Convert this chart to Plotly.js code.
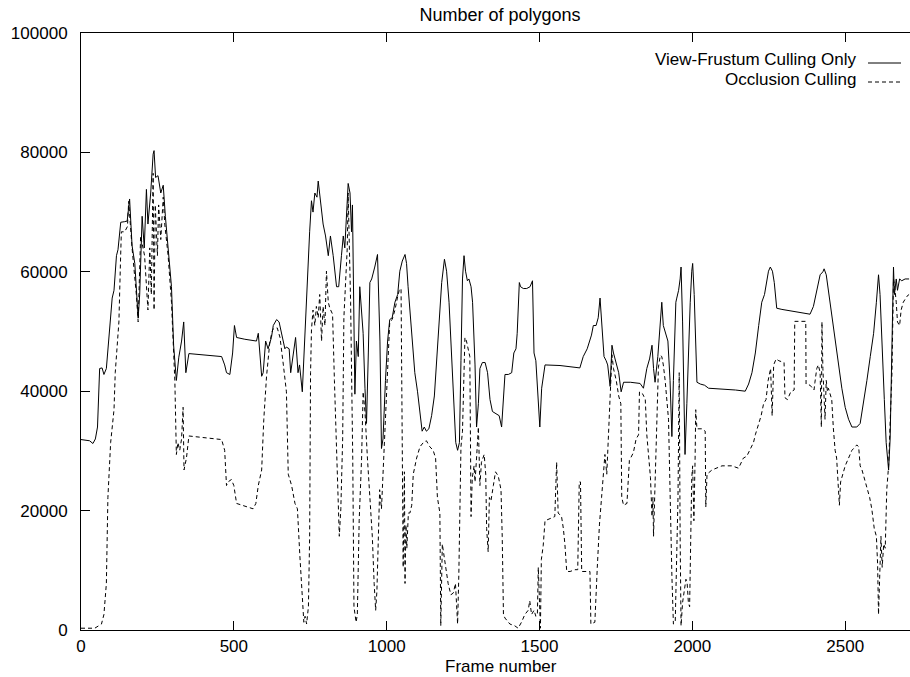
<!DOCTYPE html>
<html>
<head>
<meta charset="utf-8">
<script src="https://cdn.plot.ly/plotly-3.0.1.min.js"></script>
<style>
  html, body { margin: 0; padding: 0; background: #fff; }
  #chart { width: 910px; height: 677px; }
</style>
</head>
<body>
<div id="chart"></div>
<script>
// ---- Data ----
const chartTitle = "Number of polygons";
const xAxisLabel = "Frame number";
const seriesNames = ["View-Frustum Culling Only", "Occlusion Culling"];

const vfcFrames = [0,28,39,47,54,61,69,75,83,92,102,108,116,121,130,143,151,159,167,176,187,192,200,207,214,219,228,236,239,244,252,261,269,276,285,296,303,312,320,329,336,343,353,460,470,476,487,496,502,509,536,563,574,580,585,591,596,604,612,623,629,640,648,656,667,672,681,686,694,702,710,715,724,732,739,748,754,759,765,772,776,783,792,800,809,816,825,836,843,852,858,863,869,874,880,885,888,893,896,901,907,912,918,923,929,934,940,945,951,956,961,970,978,983,988,996,1003,1010,1018,1027,1036,1043,1051,1060,1065,1070,1081,1092,1101,1109,1116,1123,1130,1138,1147,1156,1163,1171,1180,1189,1196,1204,1212,1221,1226,1232,1238,1243,1248,1253,1258,1264,1269,1276,1281,1289,1294,1300,1305,1313,1322,1330,1338,1346,1355,1368,1376,1382,1387,1398,1409,1416,1423,1427,1434,1438,1447,1458,1469,1477,1482,1488,1496,1501,1507,1518,1567,1632,1643,1656,1670,1676,1685,1692,1698,1703,1711,1718,1723,1731,1737,1742,1751,1759,1767,1775,1797,1829,1840,1851,1860,1868,1873,1878,1887,1895,1900,1905,1913,1920,1927,1933,1938,1946,1949,1955,1960,1963,1968,1973,1976,1982,1987,1993,1998,2001,2006,2011,2015,2026,2040,2053,2097,2141,2173,2184,2195,2206,2217,2227,2236,2244,2249,2255,2262,2268,2276,2293,2336,2385,2396,2407,2418,2427,2431,2438,2445,2456,2467,2478,2489,2500,2511,2522,2538,2549,2560,2571,2582,2593,2602,2609,2614,2620,2628,2634,2642,2647,2653,2658,2661,2667,2671,2678,2685,2696,2709];
const vfcPolygons = [31900,31700,31240,32000,34000,43800,43900,42800,43800,49700,55600,56900,62700,63700,68300,68400,68500,72200,64400,61400,52300,56200,69300,64000,73800,68000,73200,79700,80300,75800,76100,73200,74500,69300,64000,57500,47700,41800,45700,48400,51600,43100,46300,45800,44400,43100,42800,46400,51000,49000,48700,48400,48400,49700,45800,42500,43100,48400,47100,49000,51000,52000,51600,49700,47100,47400,47100,43100,45800,49000,43100,44400,39900,49700,58200,66700,71900,70000,73200,72500,75200,71900,68000,66000,62700,66000,62700,57500,57500,62700,66000,64000,69300,74800,73200,66700,71200,52300,39500,48400,45800,57500,52300,49700,40500,34600,46400,58200,58800,60100,60800,62900,48400,30400,32000,41800,48400,52000,52300,54900,56200,60100,61800,62900,61400,57500,49700,43100,39900,35900,33300,34000,33300,33700,35900,39200,44400,51000,58200,62100,60100,54900,47100,37900,31400,30100,31400,45100,58800,62700,60100,58500,58800,57500,54900,44400,34000,37900,43800,44800,44800,43100,38600,36600,36300,35900,34000,39900,42800,42800,43100,46400,47100,49700,58200,57500,57200,57200,57500,58500,46400,45100,38600,34000,40500,44400,44300,43900,45800,47100,49400,51000,51000,52300,55600,52300,45800,45100,44400,40800,47700,46400,44400,43100,39900,41500,41500,41300,40500,43800,45400,47700,43800,41500,45800,51000,54900,51000,49700,48400,41800,32400,41800,54900,55600,56900,58800,60800,51600,38600,29400,37900,46400,54900,60100,61400,56200,48400,41500,41200,41000,40500,40400,40200,40000,41200,43100,46400,51000,54900,56200,58800,60100,60800,60100,58200,53900,53700,53300,52900,54200,56900,59500,60000,60500,59500,56900,52900,48400,44400,40500,37300,35300,34000,34000,34600,37900,41800,45800,49700,54900,59500,56200,47100,38600,31400,26800,32000,45100,60800,56200,58800,56900,58800,58500,58800,58800];

const occFrames = [0,45,67,75,83,88,97,105,108,112,118,124,129,132,143,152,156,167,181,187,195,208,219,225,230,236,239,243,250,254,261,269,274,285,296,307,312,317,323,329,334,337,345,353,460,470,476,481,492,500,509,525,541,563,572,580,591,598,607,618,627,634,642,651,662,672,678,689,700,708,716,725,729,733,738,744,748,751,754,759,765,770,776,781,787,792,798,803,809,814,823,829,836,842,845,850,856,860,867,871,874,878,882,889,893,900,904,910,918,923,929,937,945,953,959,964,968,973,977,983,989,996,1005,1010,1018,1027,1035,1041,1047,1049,1052,1054,1058,1060,1063,1066,1071,1076,1082,1087,1098,1109,1120,1130,1141,1152,1160,1166,1174,1177,1182,1190,1201,1210,1218,1225,1232,1236,1243,1248,1256,1261,1267,1272,1276,1280,1286,1289,1294,1300,1305,1310,1319,1324,1327,1332,1336,1341,1349,1356,1365,1374,1378,1382,1387,1403,1419,1430,1441,1452,1463,1468,1474,1482,1488,1493,1496,1499,1503,1506,1512,1518,1534,1550,1556,1561,1572,1578,1583,1589,1600,1616,1625,1630,1634,1638,1654,1665,1668,1681,1689,1696,1703,1709,1714,1720,1725,1731,1737,1742,1751,1759,1766,1769,1775,1786,1794,1807,1816,1824,1827,1838,1846,1851,1863,1868,1871,1873,1878,1884,1889,1895,1900,1905,1911,1922,1927,1933,1938,1944,1953,1957,1960,1963,1968,1974,1979,1983,1987,1991,1995,1998,2001,2005,2009,2011,2015,2031,2042,2044,2048,2064,2097,2129,2151,2167,2178,2189,2200,2206,2217,2225,2233,2241,2248,2252,2256,2261,2266,2274,2283,2300,2303,2311,2322,2333,2335,2371,2372,2385,2398,2401,2407,2412,2418,2422,2424,2427,2431,2434,2438,2442,2445,2451,2456,2461,2467,2472,2478,2481,2485,2492,2500,2511,2522,2533,2538,2544,2549,2555,2562,2571,2580,2587,2595,2602,2606,2609,2613,2617,2621,2626,2631,2636,2642,2647,2653,2658,2662,2667,2671,2678,2683,2690,2702,2709];
const occPolygons = [300,300,1000,2600,7800,22200,31400,36300,36900,43100,47100,51600,61400,66700,66700,67600,71800,64000,56200,51600,66000,62700,53600,64000,56200,76500,53600,71200,62700,71200,65400,72500,68000,62700,54900,41800,29400,31400,30100,32000,37300,26800,28800,32500,31900,30100,24200,24800,25200,24200,21200,20900,20600,20300,21200,24200,26800,35300,42500,48400,50300,50600,50600,49000,44400,39900,26100,24200,21200,20300,12400,3900,1300,2300,1000,3900,15700,43100,50300,53600,51000,54200,52300,56200,48400,54200,51000,60100,54900,53900,52900,41800,28800,19600,15700,20300,32000,52300,60100,64000,73200,63400,54900,28800,3900,1300,2600,18300,28800,39900,36500,28800,22200,15700,7800,3300,6500,17000,23500,20300,26800,36600,46400,51600,52000,53600,55600,56900,57200,41800,22200,10500,26500,7800,17600,13700,19600,19600,20900,26100,28800,30700,31400,31700,30700,30100,28800,22200,19600,700,14400,11800,7800,5900,6200,7800,1000,9200,30700,33300,49000,48400,47100,45800,19000,25500,27500,24800,28800,34000,24200,28100,29400,26100,17000,13100,22200,21600,24200,26500,25800,23500,15700,2600,2000,1000,700,300,1300,2600,3300,4900,2600,3300,2300,2600,10500,5900,300,11800,14100,18300,18600,19000,28100,19600,19000,17000,14400,9800,9800,10100,10100,24800,24800,9800,9800,9800,1000,1300,10500,17600,22200,26800,29400,26100,32700,37900,46100,43800,41800,39200,37900,22200,20900,21200,28400,29700,32000,32700,39900,39500,38600,32700,25500,19000,22200,15700,24200,38000,44000,46000,45800,44400,41800,35300,22200,9200,1000,1300,22200,43100,15700,700,4600,6500,8500,7800,4600,3900,17000,25500,27500,18300,28800,36900,33700,33700,33300,20600,26100,26800,27500,27500,27100,28800,29100,30400,31400,32700,34600,35900,37900,38600,41800,43100,43800,35900,44400,45400,45100,44800,38900,38600,39900,40200,51700,51700,41200,41000,40200,41500,43800,44400,43100,34000,51600,43800,37900,35300,41800,39900,40500,39200,38600,34000,30100,28800,23500,20900,24800,26100,27500,28800,30100,30700,31000,30700,27500,26800,25500,24200,22200,20300,17000,15700,11100,2600,11800,15700,10500,14400,13700,23500,27500,34000,43100,58800,57500,54900,51600,51000,53600,54900,55900,56200];

const xTickValues = [0, 500, 1000, 1500, 2000, 2500];
const yTickValues = [0, 20000, 40000, 60000, 80000, 100000];

// ---- Layout geometry (pixels) ----
const W = 910, H = 677;
const M = { l: 81, r: 0, t: 33, b: 47 };
const plotW = W - M.l - M.r, plotH = H - M.t - M.b;
const px2paperX = px => (px - M.l) / plotW;
const px2paperY = py => 1 - (py - M.t) / plotH;

const FONT = "Liberation Sans, Arial, Helvetica, sans-serif";
const FS = 18;
const TICKFS = 17;
const LEGFS = 17;

const traces = [
  { x: vfcFrames, y: vfcPolygons, type: "scatter", mode: "lines", name: seriesNames[0],
    line: { color: "#000", width: 1 }, showlegend: false },
  { x: occFrames, y: occPolygons, type: "scatter", mode: "lines", name: seriesNames[1],
    line: { color: "#000", width: 1, dash: "4px,3px" }, showlegend: false }
];

const layout = {
  width: W, height: H,
  margin: M,
  paper_bgcolor: "#fff", plot_bgcolor: "#fff",
  font: { family: FONT, size: FS, color: "#000" },
  title: { text: chartTitle, font: { family: FONT, size: FS, color: "#000" },
           xref: "container", x: 500 / W, xanchor: "center",
           yref: "container", y: 1 - 15 / H, yanchor: "middle" },
  xaxis: {
    range: [0, 2712], tickvals: xTickValues, tickformat: "d",
    ticks: "inside", ticklen: 9, tickcolor: "#000", tickwidth: 1,
    showline: true, linecolor: "#000", linewidth: 1, mirror: "allticks",
    showgrid: false, zeroline: false, ticklabelstandoff: 1,
    tickfont: { family: FONT, size: TICKFS, color: "#000" }, fixedrange: true
  },
  yaxis: {
    range: [0, 100000], tickvals: yTickValues, tickformat: "d",
    ticks: "inside", ticklen: 9, tickcolor: "#000", tickwidth: 1,
    showline: true, linecolor: "#000", linewidth: 1, mirror: false,
    showgrid: false, zeroline: false, ticklabelstandoff: 9,
    tickfont: { family: FONT, size: TICKFS, color: "#000" }, fixedrange: true
  },
  annotations: [
    { text: xAxisLabel, xref: "paper", yref: "paper", x: px2paperX(501), y: px2paperY(666),
      xanchor: "center", yanchor: "middle", showarrow: false, borderpad: 0,
      font: { family: FONT, size: 17, color: "#000" } },
    { text: seriesNames[0], xref: "paper", yref: "paper", x: px2paperX(857), y: px2paperY(60),
      xanchor: "right", yanchor: "middle", showarrow: false, borderpad: 0,
      font: { family: FONT, size: LEGFS, color: "#000" } },
    { text: seriesNames[1], xref: "paper", yref: "paper", x: px2paperX(857), y: px2paperY(80),
      xanchor: "right", yanchor: "middle", showarrow: false, borderpad: 0,
      font: { family: FONT, size: LEGFS, color: "#000" } }
  ],
  shapes: [
    { type: "line", xref: "paper", yref: "paper", x0: px2paperX(868), x1: px2paperX(901),
      y0: px2paperY(63), y1: px2paperY(63), line: { color: "#000", width: 1 } },
    { type: "line", xref: "paper", yref: "paper", x0: px2paperX(868), x1: px2paperX(901),
      y0: px2paperY(82), y1: px2paperY(82), line: { color: "#000", width: 1, dash: "4px,3px" } }
  ],
  showlegend: false
};

Plotly.newPlot("chart", traces, layout, { displayModeBar: false, staticPlot: true });
</script>
</body>
</html>
